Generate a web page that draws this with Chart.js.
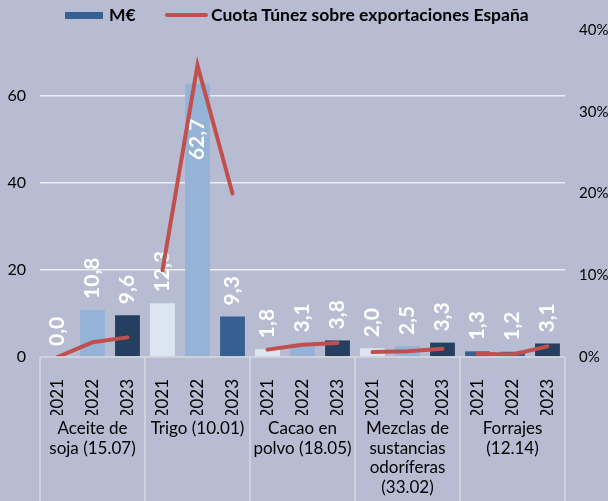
<!DOCTYPE html>
<html>
<head>
<meta charset="utf-8">
<script src="https://cdn.jsdelivr.net/npm/chart.js@4/dist/chart.umd.min.js"></script>
<style>
  html, body { margin: 0; padding: 0; background: #b8bcd2; }
  #wrap { position: relative; width: 608px; height: 501px; }
  #legend {
    position: absolute; top: 5px; left: 0; width: 608px; height: 22px;
    font: bold 17.5px Lato, sans-serif; color: #000;
  }
  .sw { position: absolute; }
  .lbl { position: absolute; top: 0; line-height: 20px; white-space: nowrap; }
</style>
</head>
<body>
<div id="wrap">
  <canvas id="chart" width="608" height="501"></canvas>
  <div id="legend">
    <span class="sw" style="left:65px;top:7px;width:38px;height:7px;background:#376092"></span>
    <span class="lbl" style="left:109px">M€</span>
    <span class="sw" style="left:165px;top:8px;width:43px;height:4px;border-radius:2px;background:#c0504d"></span>
    <span class="lbl" style="left:211px">Cuota Túnez sobre exportaciones España</span>
  </div>
</div>
<script>
// ==== Data ====
const groups = [
  ["Aceite de", "soja (15.07)"],
  ["Trigo (10.01)"],
  ["Cacao en", "polvo (18.05)"],
  ["Mezclas de", "sustancias", "odoríferas", "(33.02)"],
  ["Forrajes", "(12.14)"]
];
const years = ["2021", "2022", "2023"];
const millionsEur = [0.0, 10.8, 9.6, 12.3, 62.7, 9.3, 1.8, 3.1, 3.8, 2.0, 2.5, 3.3, 1.3, 1.2, 3.1];
const shareTunez = [0, 1.8, 2.4, 10.6, 35.7, 20.0, 0.9, 1.5, 1.7, 0.6, 0.7, 1.0, 0.4, 0.3, 1.3];

// ==== Styles ====
const LIGHT = "#dce6f2", MID = "#95b3d7", DARK = "#376092", NAVY = "#243f60";
const barColors = [
  MID, MID, NAVY,
  LIGHT, MID, DARK,
  LIGHT, MID, NAVY,
  LIGHT, MID, NAVY,
  DARK, DARK, NAVY
];
const FONT = "Lato, sans-serif";

const xLabels = [];
groups.forEach(() => years.forEach((y) => xLabels.push(y)));

// ==== Plugins ====
const barLabels = {
  id: "barLabels",
  afterDatasetDraw(chart, args) {
    if (args.index !== 0) return;
    const ctx = chart.ctx;
    ctx.save();
    ctx.fillStyle = "#ffffff";
    ctx.font = "bold 21px " + FONT;
    ctx.textBaseline = "middle";
    args.meta.data.forEach((bar, i) => {
      const v = millionsEur[i];
      const txt = v.toFixed(1).replace(".", ",");
      ctx.save();
      ctx.translate(bar.x, bar.y);
      ctx.rotate(-Math.PI / 2);
      if (v > 50) {
        ctx.textAlign = "right";
        ctx.fillText(txt, -35, 0);
      } else {
        ctx.textAlign = "left";
        ctx.fillText(txt, 11, 0);
      }
      ctx.restore();
    });
    ctx.restore();
  }
};

const groupLines = {
  id: "groupLines",
  afterDraw(chart) {
    const ctx = chart.ctx;
    const area = chart.chartArea;
    const x = chart.scales.x;
    ctx.save();
    ctx.strokeStyle = "#d6d7e0";
    ctx.lineWidth = 1.5;
    ctx.beginPath();
    ctx.moveTo(area.left, area.bottom);
    ctx.lineTo(area.right, area.bottom);
    for (let g = 0; g <= groups.length; g++) {
      let px;
      if (g === 0) px = area.left;
      else if (g === groups.length) px = area.right;
      else px = (x.getPixelForValue(g * 3 - 1) + x.getPixelForValue(g * 3)) / 2;
      ctx.moveTo(px, area.bottom);
      ctx.lineTo(px, chart.height);
    }
    ctx.stroke();
    ctx.restore();
  }
};

// ==== Chart ====
new Chart(document.getElementById("chart"), {
  data: {
    labels: xLabels,
    datasets: [
      {
        type: "bar",
        label: "M€",
        data: millionsEur,
        backgroundColor: barColors,
        yAxisID: "y",
        categoryPercentage: 1,
        barPercentage: 0.71,
        order: 1
      },
      {
        type: "line",
        label: "Cuota Túnez sobre exportaciones España",
        data: shareTunez,
        borderColor: "#c0504d",
        borderWidth: 4,
        borderCapStyle: "round",
        pointRadius: 0,
        tension: 0,
        yAxisID: "y1",
        segment: {
          borderColor: (c) => (c.p0DataIndex % 3 === 2 ? "transparent" : "#c0504d")
        },
        order: 0
      }
    ]
  },
  options: {
    responsive: false,
    animation: false,
    layout: { padding: { top: 30, bottom: 0, left: 0, right: 0 } },
    plugins: {
      legend: { display: false },
      tooltip: { enabled: false }
    },
    scales: {
      x: {
        position: "bottom",
        grid: { display: false },
        border: { display: false },
        ticks: {
          autoSkip: false,
          maxRotation: 90,
          minRotation: 90,
          padding: 14,
          color: "#000",
          font: { family: FONT, size: 17 }
        },
        afterFit: (s) => { s.height = 58; }
      },
      x2: {
        type: "category",
        position: "bottom",
        labels: groups,
        offset: true,
        grid: { display: false },
        border: { display: false },
        ticks: {
          autoSkip: false,
          maxRotation: 0,
          minRotation: 0,
          padding: -4,
          color: "#000",
          font: { family: FONT, size: 17, lineHeight: 1.15 }
        },
        afterFit: (s) => { s.height = 86; }
      },
      y: {
        position: "left",
        min: 0,
        max: 75,
        afterBuildTicks: (s) => { s.ticks = [0, 20, 40, 60].map((v) => ({ value: v })); },
        grid: {
          drawTicks: false,
          lineWidth: 1.5,
          color: (c) => (c.tick.value === 0 ? "transparent" : "#eceef4")
        },
        border: { display: false },
        ticks: { padding: 14, color: "#000", font: { family: FONT, size: 16 } },
        afterFit: (s) => { s.width = 40; }
      },
      y1: {
        position: "right",
        min: 0,
        max: 40,
        grid: { display: false },
        border: { display: false },
        ticks: {
          stepSize: 10,
          padding: 6,
          color: "#000",
          font: { family: FONT, size: 15 },
          callback: (v) => v + "%"
        },
        afterFit: (s) => { s.width = 43; }
      }
    }
  },
  plugins: [barLabels, groupLines]
});
</script>
</body>
</html>
